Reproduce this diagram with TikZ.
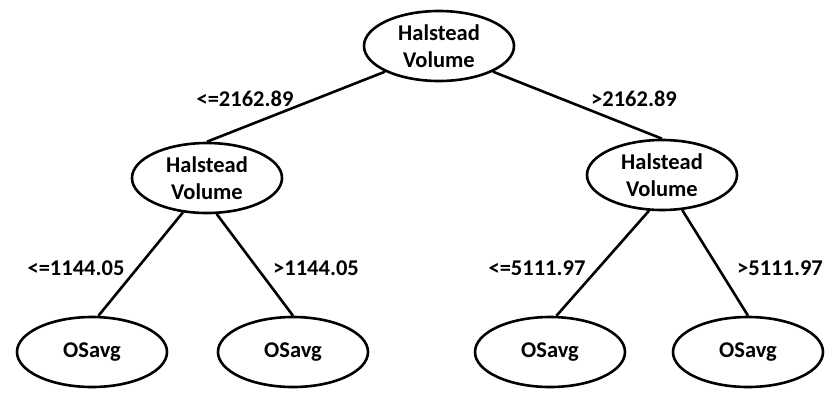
\documentclass[tikz,border=0pt]{standalone}
\usepackage{fontspec}
\setmainfont{Carlito}
\usepackage{tikz}
\usetikzlibrary{shapes.geometric}

\begin{document}
\begin{tikzpicture}[x=1pt,y=-1pt,
    every node/.style={font=\bfseries\fontsize{22.5}{27}\selectfont},
    split/.style={ellipse, draw, line width=2.6pt, minimum width=150pt, minimum height=70pt, inner sep=0pt, align=center}]
    \useasboundingbox (0,0) rectangle (829,392);
    \node [split] (root) at (439,46) {Halstead\\Volume};
    \node [split] (lvol) at (207,178) {Halstead\\Volume};
    \node [split] (rvol) at (662,175) {Halstead\\Volume};
    \node [split] (ll) at (92,352) {OSavg};
    \node [split] (lr) at (293,352) {OSavg};
    \node [split] (rl) at (550,352) {OSavg};
    \node [split] (rr) at (748,352) {OSavg};
    \draw [line width=2.6pt] (root.south west) -- (lvol.north)
        (root.south east) -- (rvol.north)
        (lvol.-125) -- (ll.80)
        (lvol.-75) -- (lr.north)
        (rvol.-110) -- (rl.80)
        (rvol.-60) -- (rr.north);
    \node (a) at (245,99) {<=2162.89};
    \node (b) at (634,99) {>2162.89};
    \node (c) at (76,268) {<=1144.05};
    \node (d) at (316,268) {>1144.05};
    \node (e) at (537,268) {<=5111.97};
    \node (f) at (780,268) {>5111.97};
\end{tikzpicture}
\end{document}
